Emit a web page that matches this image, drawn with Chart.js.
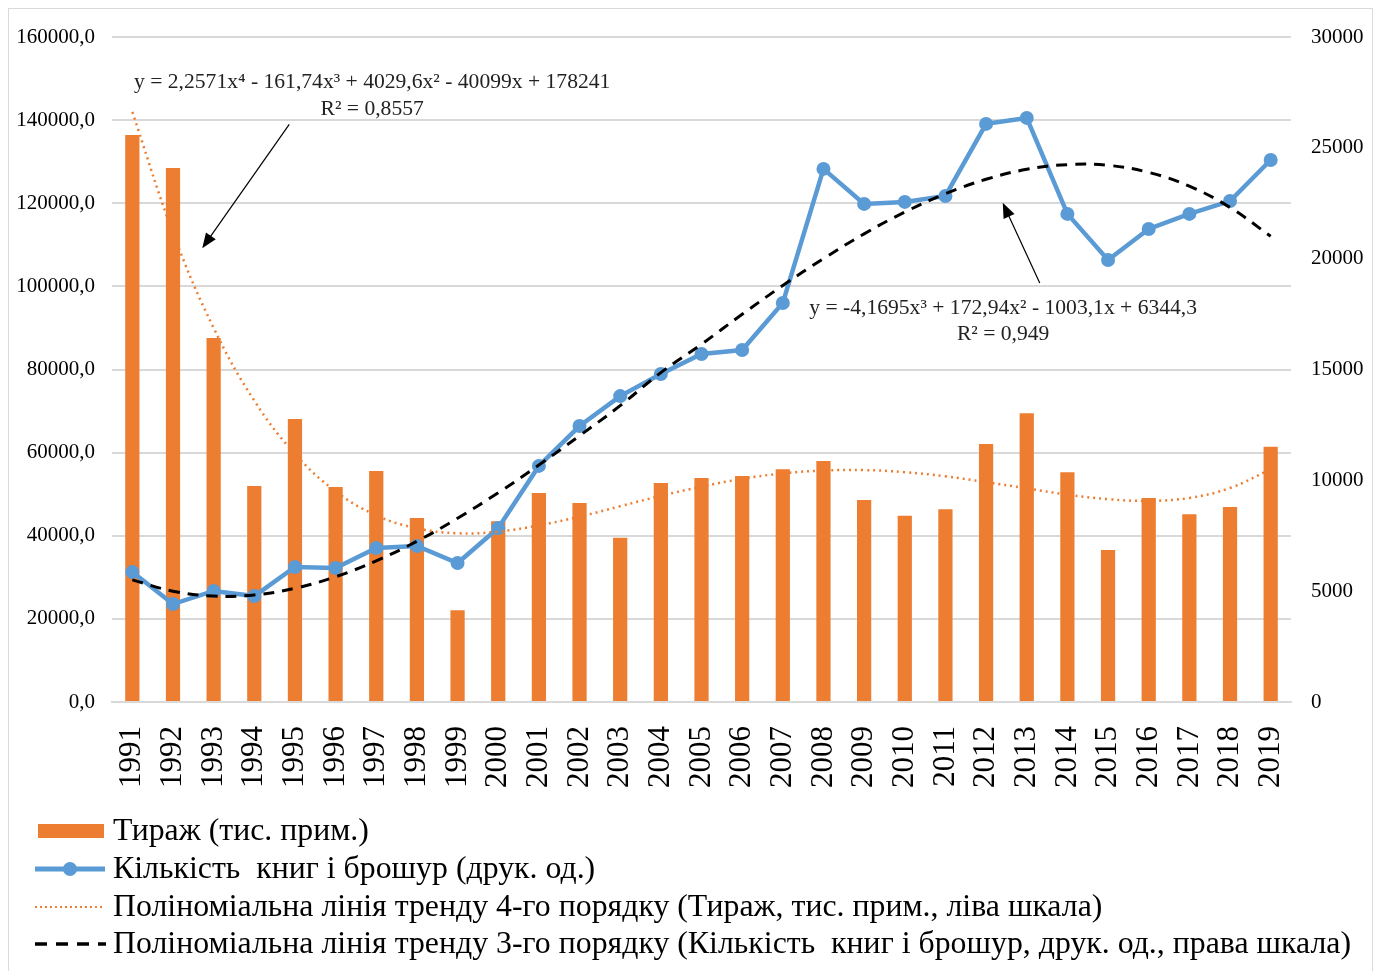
<!DOCTYPE html>
<html>
<head>
<meta charset="utf-8">
<script src="https://cdn.jsdelivr.net/npm/chart.js@4.4.1/dist/chart.umd.min.js"></script>
<style>
  html, body { margin: 0; padding: 0; background: #fff; }
  #wrap { position: relative; width: 1381px; height: 971px; overflow: hidden; }
  #frame { position: absolute; left: 8px; top: 8px; width: 1363px; height: 990px; border: 1px solid #d9d9d9; }
  canvas { position: absolute; left: 0; top: 0; }
</style>
</head>
<body>
<div id="wrap">
  <div id="frame"></div>
  <canvas id="chart" width="1381" height="971"></canvas>
</div>
<script>
// years on the category axis
const years = ['1991','1992','1993','1994','1995','1996','1997','1998','1999','2000',
  '2001','2002','2003','2004','2005','2006','2007','2008','2009','2010',
  '2011','2012','2013','2014','2015','2016','2017','2018','2019'];

// Тираж, тис. прим. (left scale)
const circulation = [136400, 128500, 87600, 52000, 68100, 51700, 55600, 44300, 22100, 43500,
  50300, 47900, 39500, 52700, 53900, 54400, 56000, 58000, 48600, 44800,
  46400, 62100, 69500, 55300, 36600, 49100, 45200, 46900, 61400];

// Кількість книг і брошур, друк. од. (right scale)
const titles = [5860, 4420, 5010, 4780, 6090, 6045, 6950, 7040, 6270, 7850,
  10650, 12450, 13800, 14800, 15700, 15880, 18000, 24050, 22470, 22560,
  22830, 26080, 26350, 22020, 19940, 21340, 22020, 22600, 24450];

// 4th order trend of circulation
const circulationTrend = [142000, 112900, 90000, 72500, 59700, 50700, 44900, 41800, 40600, 41000,
  42500, 44600, 47100, 49600, 51800, 53700, 55000, 55700, 55800, 55300,
  54300, 52900, 51400, 49900, 48800, 48400, 49100, 51500, 56000];

// 3rd order trend of titles
const titlesTrend = [5510, 5000, 4780, 4830, 5130, 5650, 6370, 7250, 8290, 9440,
  10690, 12010, 13370, 14860, 16140, 17490, 18790, 20000, 21120, 22100,
  22930, 23580, 24030, 24240, 24210, 23890, 23270, 22310, 21010];

const leftMax = 160000, leftStep = 20000;
const rightMax = 30000, rightStep = 5000;

const ORANGE = '#ED7D31';
const BLUE = '#5B9BD5';
const FONT = "'Liberation Serif', 'Times New Roman', serif";

const legendItems = [
  { kind: 'bar', text: 'Тираж (тис. прим.)' },
  { kind: 'line', text: 'Кількість  книг і брошур (друк. од.)' },
  { kind: 'dots', text: 'Поліноміальна лінія тренду 4-го порядку (Тираж, тис. прим., ліва шкала)' },
  { kind: 'dash', text: 'Поліноміальна лінія тренду 3-го порядку (Кількість  книг і брошур, друк. од., права шкала)' }
];

// equation notes: positions in (category index, left-scale value)
const notes = [
  { lines: ['y = 2,2571x⁴ - 161,74x³ + 4029,6x² - 40099x + 178241', 'R² = 0,8557'],
    at: [5.9, 149200], gap: 27, arrow: [[3.86, 139000], [1.72, 109200]] },
  { lines: ['y = -4,1695x³ + 172,94x² - 1003,1x + 6344,3', 'R² = 0,949'],
    at: [21.42, 94600], gap: 26, arrow: [[22.32, 100800], [21.41, 120100]] }
];

function drawArrow(ctx, x1, y1, x2, y2) {
  const a = Math.atan2(y2 - y1, x2 - x1);
  const len = 15, half = 6;
  ctx.save();
  ctx.strokeStyle = '#000';
  ctx.fillStyle = '#000';
  ctx.lineWidth = 1.2;
  ctx.beginPath();
  ctx.moveTo(x1, y1);
  ctx.lineTo(x2 - Math.cos(a) * len * 0.8, y2 - Math.sin(a) * len * 0.8);
  ctx.stroke();
  ctx.translate(x2, y2);
  ctx.rotate(a);
  ctx.beginPath();
  ctx.moveTo(0, 0);
  ctx.lineTo(-len, -half);
  ctx.lineTo(-len, half);
  ctx.closePath();
  ctx.fill();
  ctx.restore();
}

const notesPlugin = {
  id: 'notes',
  afterDatasetsDraw(chart) {
    const ctx = chart.ctx;
    const xs = chart.scales.x, ys = chart.scales.y;
    notes.forEach(n => {
      const cx = xs.getPixelForValue(n.at[0]);
      const cy = ys.getPixelForValue(n.at[1]);
      ctx.save();
      ctx.font = '21.6px ' + FONT;
      ctx.fillStyle = '#222';
      ctx.textAlign = 'center';
      ctx.textBaseline = 'middle';
      n.lines.forEach((t, i) => ctx.fillText(t, cx, cy + i * n.gap));
      ctx.restore();
      const p1 = n.arrow[0], p2 = n.arrow[1];
      drawArrow(ctx, xs.getPixelForValue(p1[0]), ys.getPixelForValue(p1[1]),
        xs.getPixelForValue(p2[0]), ys.getPixelForValue(p2[1]));
    });
  }
};

const legendPlugin = {
  id: 'sideLegend',
  afterDraw(chart) {
    const ctx = chart.ctx;
    const rowY = [831, 869, 907, 944];
    const textX = 113;
    ctx.save();
    ctx.font = '32px ' + FONT;
    const longest = ctx.measureText(legendItems[3].text).width;
    const sx = 1238 / longest;
    legendItems.forEach((item, i) => {
      const y = rowY[i];
      ctx.save();
      if (item.kind === 'bar') {
        ctx.fillStyle = ORANGE;
        ctx.fillRect(38, y - 7, 66, 14);
      } else if (item.kind === 'line') {
        ctx.strokeStyle = BLUE;
        ctx.lineWidth = 5;
        ctx.beginPath(); ctx.moveTo(35, y); ctx.lineTo(105, y); ctx.stroke();
        ctx.fillStyle = BLUE;
        ctx.beginPath(); ctx.arc(70, y, 7, 0, Math.PI * 2); ctx.fill();
      } else if (item.kind === 'dots') {
        ctx.strokeStyle = ORANGE;
        ctx.lineWidth = 2;
        ctx.setLineDash([2, 3]);
        ctx.beginPath(); ctx.moveTo(35, y); ctx.lineTo(103, y); ctx.stroke();
      } else {
        ctx.strokeStyle = '#000';
        ctx.lineWidth = 3.5;
        ctx.setLineDash([12, 9]);
        ctx.beginPath(); ctx.moveTo(35, y); ctx.lineTo(106, y); ctx.stroke();
      }
      ctx.restore();
      ctx.save();
      ctx.translate(textX, y);
      ctx.scale(sx, 1);
      ctx.fillStyle = '#000';
      ctx.textBaseline = 'middle';
      ctx.textAlign = 'left';
      ctx.font = '32px ' + FONT;
      ctx.fillText(item.text, 0, 1);
      ctx.restore();
    });
    ctx.restore();
  }
};

const ctx = document.getElementById('chart').getContext('2d');
new Chart(ctx, {
  type: 'bar',
  data: {
    labels: years,
    datasets: [
      {
        type: 'line',
        label: legendItems[3].text,
        data: titlesTrend,
        yAxisID: 'y2',
        borderColor: '#000',
        borderWidth: 3,
        borderDash: [11, 8],
        pointRadius: 0,
        tension: 0.4,
        order: 1
      },
      {
        type: 'line',
        label: legendItems[2].text,
        data: circulationTrend,
        yAxisID: 'y',
        borderColor: ORANGE,
        borderWidth: 2.5,
        borderDash: [2, 4],
        pointRadius: 0,
        tension: 0.4,
        order: 2
      },
      {
        type: 'line',
        label: legendItems[1].text,
        data: titles,
        yAxisID: 'y2',
        borderColor: BLUE,
        borderWidth: 4.5,
        pointRadius: 7,
        pointBackgroundColor: BLUE,
        pointBorderWidth: 0,
        tension: 0,
        order: 3
      },
      {
        type: 'bar',
        label: legendItems[0].text,
        data: circulation,
        yAxisID: 'y',
        backgroundColor: ORANGE,
        barPercentage: 0.35,
        categoryPercentage: 1,
        order: 4
      }
    ]
  },
  options: {
    responsive: false,
    animation: false,
    layout: { padding: { top: 37, left: 0, right: 0, bottom: 0 } },
    plugins: { legend: { display: false }, tooltip: { enabled: false } },
    scales: {
      x: {
        offset: true,
        grid: { display: false, drawTicks: false },
        border: { display: true, color: '#d9d9d9', width: 2 },
        ticks: {
          autoSkip: false, maxRotation: 90, minRotation: 90, padding: 24,
          color: '#000', font: { family: FONT, size: 31 }
        },
        afterFit: s => { s.height = 269; }
      },
      y: {
        position: 'left',
        min: 0, max: leftMax,
        grid: { color: '#d9d9d9', lineWidth: 2, drawTicks: false },
        border: { display: false },
        ticks: {
          stepSize: leftStep, padding: 17, color: '#000',
          font: { family: FONT, size: 21 },
          callback: v => v.toFixed(1).replace('.', ',')
        },
        afterFit: s => { s.width = 112; }
      },
      y2: {
        position: 'right',
        min: 0, max: rightMax,
        grid: { display: false, drawTicks: false },
        border: { display: false },
        ticks: {
          stepSize: rightStep, padding: 20, color: '#000',
          font: { family: FONT, size: 21 },
          callback: v => String(v)
        },
        afterFit: s => { s.width = 90; }
      }
    }
  },
  plugins: [notesPlugin, legendPlugin]
});
</script>
</body>
</html>
